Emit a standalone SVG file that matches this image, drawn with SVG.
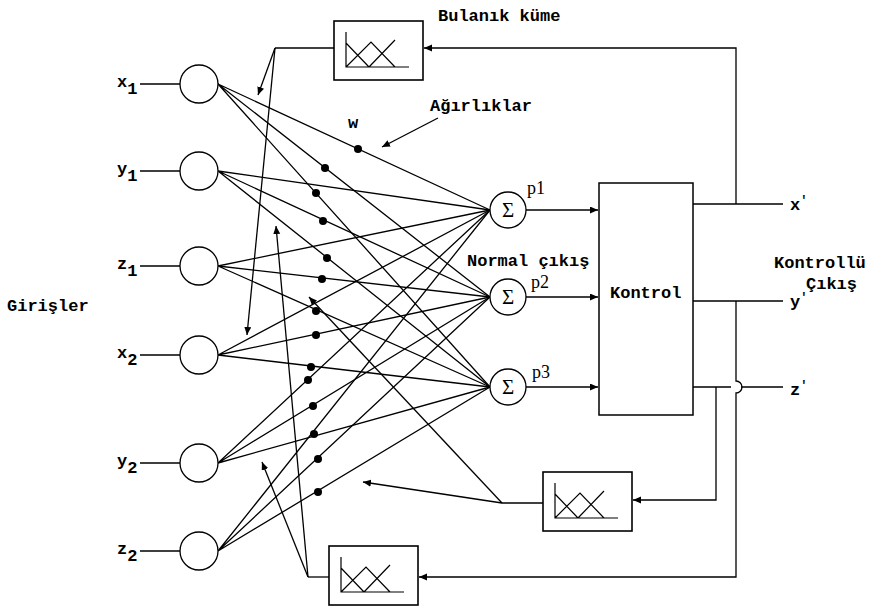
<svg xmlns="http://www.w3.org/2000/svg" width="874" height="606" viewBox="0 0 874 606">
<style>
.ln{stroke:#000;stroke-width:1.3;fill:none}
.nd{fill:#fff;stroke:#000;stroke-width:1.3}
.lb{font-family:"Liberation Mono","Courier New",monospace;font-weight:bold;font-size:17px;fill:#000}
.p{font-family:"Liberation Serif","Times New Roman",serif;font-size:18px;fill:#000}
.sg{font-family:"Liberation Serif","Times New Roman",serif;font-size:21px;fill:#000;text-anchor:middle}
</style>
<defs>
<marker id="ah" markerUnits="userSpaceOnUse" markerWidth="10" markerHeight="8" refX="8" refY="3.5" orient="auto"><path d="M0,0 L8,3.5 L0,7 z" fill="#000"/></marker>
<g id="fz"><rect x="0" y="0" width="89" height="59" fill="#fff" stroke="#000" stroke-width="1.6"/><path d="M12,11 V46 H75 M12,22 L35,46 M12,46 L37,21 L61,46 M35,46 L61,19" fill="none" stroke="#000" stroke-width="1.2"/></g>
</defs>
<rect width="874" height="606" fill="#fff"/>

<g id="connectors" class="ln">
  <path d="M140,84 H180 M140,171 H180 M140,266 H180 M140,355 H180 M140,463 H180 M140,551 H180"/>
  <path d="M218,84 L490,210 M218,84 L490,297 M218,84 L490,387"/>
  <path d="M218,171 L490,210 M218,171 L490,297 M218,171 L490,387"/>
  <path d="M218,266 L490,210 M218,266 L490,297 M218,266 L490,387"/>
  <path d="M218,355 L490,210 M218,355 L490,297 M218,355 L490,387"/>
  <path d="M218,463 L490,210 M218,463 L490,297 M218,463 L490,387"/>
  <path d="M218,551 L490,210 M218,551 L490,297 M218,551 L490,387"/>
  <path d="M526,210 H598" marker-end="url(#ah)"/>
  <path d="M526,297 H598" marker-end="url(#ah)"/>
  <path d="M526,387 H598" marker-end="url(#ah)"/>
  <path d="M693,204 H783 M693,301 H783 M693,387 H731 M741,387 H783"/>
  <path d="M736,204 V48 H424" marker-end="url(#ah)"/>
  <path d="M334,48 H275"/>
  <path d="M275,48 L258,95" marker-end="url(#ah)"/>
  <path d="M275,48 L247,335" marker-end="url(#ah)"/>
  <path d="M736,301 V381 A6,6 0 0 1 736,393 V577 H419" marker-end="url(#ah)"/>
  <path d="M329,577 H308"/>
  <path d="M308,577 L262,462" marker-end="url(#ah)"/>
  <path d="M308,577 L276,226" marker-end="url(#ah)"/>
  <path d="M716,387 V500 H633" marker-end="url(#ah)"/>
  <path d="M543,503 H502"/>
  <path d="M502,503 L363,482" marker-end="url(#ah)"/>
  <path d="M502,503 L309,297" marker-end="url(#ah)"/>
  <path d="M438,118 L382,147" marker-end="url(#ah)"/>
</g>

<g id="weights" fill="#000">
  <circle cx="358" cy="149" r="4"/>
  <circle cx="325" cy="168" r="4"/>
  <circle cx="316" cy="193" r="4"/>
  <circle cx="323" cy="221" r="4"/>
  <circle cx="327" cy="258" r="4"/>
  <circle cx="322" cy="279" r="4"/>
  <circle cx="316" cy="311" r="4"/>
  <circle cx="316" cy="335" r="4"/>
  <circle cx="311" cy="367" r="4"/>
  <circle cx="308" cy="380" r="4"/>
  <circle cx="313" cy="406" r="4"/>
  <circle cx="314" cy="434" r="4"/>
  <circle cx="318" cy="459" r="4"/>
  <circle cx="318" cy="492" r="4"/>
</g>

<g id="in-x1"><circle class="nd" cx="199" cy="84" r="19"/><text class="lb" x="117" y="87">x<tspan dy="7">1</tspan></text></g>
<g id="in-y1"><circle class="nd" cx="199" cy="171" r="19"/><text class="lb" x="117" y="174">y<tspan dy="7">1</tspan></text></g>
<g id="in-z1"><circle class="nd" cx="199" cy="266" r="19"/><text class="lb" x="117" y="269">z<tspan dy="7">1</tspan></text></g>
<g id="in-x2"><circle class="nd" cx="199" cy="355" r="19"/><text class="lb" x="117" y="358">x<tspan dy="7">2</tspan></text></g>
<g id="in-y2"><circle class="nd" cx="199" cy="463" r="19"/><text class="lb" x="117" y="466">y<tspan dy="7">2</tspan></text></g>
<g id="in-z2"><circle class="nd" cx="199" cy="551" r="19"/><text class="lb" x="117" y="554">z<tspan dy="7">2</tspan></text></g>

<g id="sum-p1"><circle class="nd" cx="508" cy="210" r="18"/><text class="sg" x="508" y="217">Σ</text><text class="p" x="527" y="194">p1</text></g>
<g id="sum-p2"><circle class="nd" cx="508" cy="297" r="18"/><text class="sg" x="508" y="304">Σ</text><text class="p" x="531" y="288">p2</text></g>
<g id="sum-p3"><circle class="nd" cx="508" cy="387" r="18"/><text class="sg" x="508" y="394">Σ</text><text class="p" x="532" y="378">p3</text></g>

<g id="control"><rect x="599" y="183" width="94" height="232" fill="#fff" stroke="#000" stroke-width="1.5"/><text class="lb" x="610" y="298">Kontrol</text></g>

<g id="fuzzy-top"><use href="#fz" x="334" y="21"/></g>
<g id="fuzzy-right"><use href="#fz" x="543" y="472"/></g>
<g id="fuzzy-left"><use href="#fz" x="329" y="546"/></g>

<g id="labels">
  <text class="lb" x="438" y="21">Bulanık küme</text>
  <text class="lb" x="430" y="111">Ağırlıklar</text>
  <text class="lb" x="348" y="128">w</text>
  <text class="lb" x="467" y="266">Normal çıkış</text>
  <text class="lb" x="7" y="311">Girişler</text>
  <text class="lb" x="774" y="268">Kontrollü</text>
  <text class="lb" x="806" y="289">Çıkış</text>
  <text class="lb" x="790" y="210">x<tspan dy="-6" font-size="12">'</tspan></text>
  <text class="lb" x="790" y="307">y<tspan dy="-6" font-size="12">'</tspan></text>
  <text class="lb" x="790" y="395">z<tspan dy="-6" font-size="12">'</tspan></text>
</g>
</svg>
